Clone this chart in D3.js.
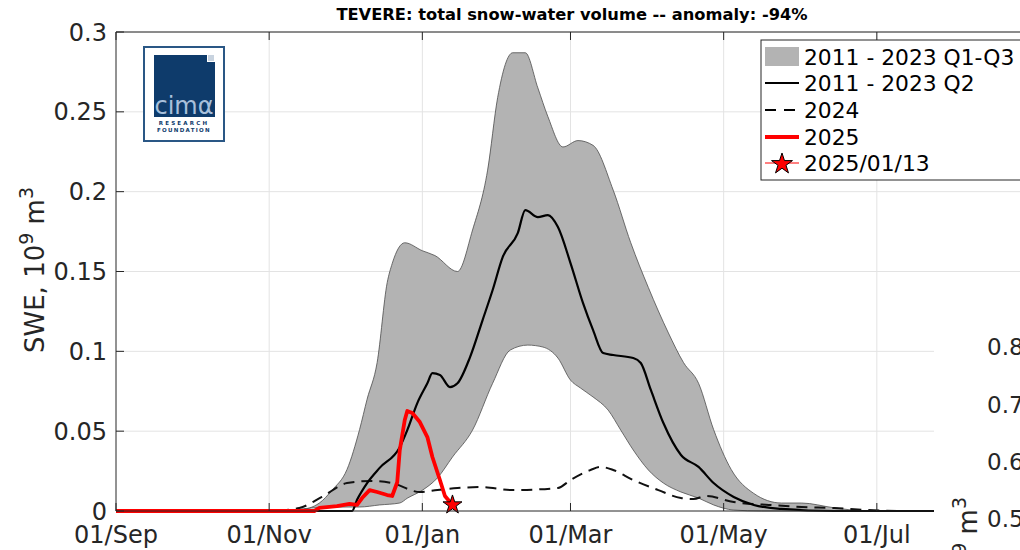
<!DOCTYPE html>
<html>
<head>
<meta charset="utf-8">
<script src="https://cdn.jsdelivr.net/npm/d3@7"></script>
<style>
  body { margin: 0; background: #fff; }
  text { font-family: "DejaVu Sans", sans-serif; fill: #262626; }
</style>
</head>
<body>
<div id="chart"></div>
<script>
// day offset from 01/Sep 2024, SWE in 10^9 m^3
const q3 = [[0,0],[60,0],[65,0],[73,0.0006],[81,0.005],[86.5,0.013],[92,0.026],[97,0.051],[100,0.07],[104,0.093],[108,0.143],[110.5,0.155],[115,0.168],[122,0.163],[127,0.160],[136,0.150],[142,0.176],[148,0.2135],[152,0.259],[158,0.287],[163,0.287],[168,0.265],[172,0.247],[178,0.228],[184,0.232],[190,0.229],[198,0.201],[205,0.168],[212,0.140],[220,0.1115],[226,0.093],[232,0.080],[238,0.051],[245,0.026],[254,0.011],[265,0.005],[273,0.005],[286,0.002],[299,0],[310,0],[364,0]];
const q1 = [[0,0],[60,0],[65,0],[78.5,0.0019],[92,0.0025],[97,0.0025],[105,0.0038],[113,0.005],[116,0.008],[122,0.013],[128,0.0207],[134,0.0338],[142,0.0507],[150,0.080],[157,0.1008],[164,0.1039],[170,0.1027],[176,0.0958],[181,0.082],[185,0.077],[190,0.0714],[196,0.0632],[201,0.0507],[206,0.0382],[212,0.0257],[218,0.0175],[225,0.0119],[232,0.0081],[238,0.0038],[246,0.0006],[257,0],[270,0],[364,0]];
const q2 = [[0,0],[90,0],[94.5,0],[96,0.007],[100,0.0175],[105,0.027],[113,0.040],[116,0.0507],[120,0.0676],[124,0.080],[126.5,0.0864],[129,0.0852],[133,0.0776],[136,0.080],[141,0.0964],[146,0.1196],[150,0.1384],[154,0.159],[160,0.174],[163,0.1885],[168,0.1841],[172,0.1853],[176,0.1778],[181,0.1553],[186,0.1302],[190,0.1133],[194,0.0989],[198,0.0977],[206,0.0958],[209,0.0927],[213,0.0758],[218,0.0551],[225,0.0351],[232,0.0276],[238,0.0175],[246,0.0088],[254,0.0038],[265,0.0013],[286,0],[300,0],[364,0]];
const y2024 = [[0,0],[55,0],[61,0],[73,0.0019],[82.5,0.0088],[92,0.0175],[102.5,0.0188],[110,0.0175],[121,0.0119],[128,0.0131],[136,0.0144],[145,0.015],[158,0.0131],[176,0.0144],[181,0.0194],[189,0.0257],[193,0.0276],[198,0.0257],[206,0.0194],[216,0.0131],[225,0.0081],[230,0.0075],[235.5,0.0094],[246,0.0056],[260,0.0038],[273,0.0025],[286,0.0019],[299,0.0006],[313,0],[330,0],[364,0]];
const y2025 = [[0,0],[79,0],[81,0.0019],[88,0.003],[93,0.0044],[96,0.0038],[98.5,0.0081],[101,0.0131],[104,0.0119],[108,0.010],[110.5,0.0094],[112,0.018],[113.5,0.038],[115,0.057],[116.5,0.0626],[118.5,0.0614],[121,0.0557],[124,0.0463],[126.5,0.0338],[129,0.0194],[131.5,0.0094],[134,0.0038]];
const lastDay = [134, 0.0038];

const legendLabels = ["2011 - 2023 Q1-Q3", "2011 - 2023 Q2", "2024", "2025", "2025/01/13"];
const yTicks = [0, 0.05, 0.1, 0.15, 0.2, 0.25, 0.3];
const xTickMonths = ["2024-09-01", "2024-11-01", "2025-01-01", "2025-03-01", "2025-05-01", "2025-07-01"];
const rightTicks = ["0.8", "0.7", "0.6", "0.5"];

const W = 1020, H = 550;
const plot = {left: 116, top: 32, bottom: 511, right: 934};
const start = new Date(2024, 8, 1);
const toDate = d => new Date(2024, 8, 1 + d);

const svg = d3.select("#chart").append("svg")
    .attr("width", W).attr("height", H);

const x = d3.scaleTime()
    .domain([start, new Date(2025, 7, 31)])
    .range([plot.left, 1030]);
const y = d3.scaleLinear().domain([0, 0.3]).range([plot.bottom, plot.top]);

const xTicks = xTickMonths.map(s => d3.timeParse("%Y-%m-%d")(s));

// grid
svg.append("g").selectAll("line").data(yTicks.slice(1)).enter().append("line")
    .attr("x1", plot.left).attr("x2", W)
    .attr("y1", d => y(d)).attr("y2", d => y(d))
    .attr("stroke", "#e3e3e3").attr("stroke-width", 1);
svg.append("g").selectAll("line").data(xTicks.slice(1)).enter().append("line")
    .attr("x1", d => x(d)).attr("x2", d => x(d))
    .attr("y1", plot.top).attr("y2", plot.bottom)
    .attr("stroke", "#e3e3e3").attr("stroke-width", 1);

const line = d3.line()
    .x(d => x(toDate(d[0])))
    .y(d => y(d[1]))
    .curve(d3.curveMonotoneX);

// Q1-Q3 band
svg.append("path")
    .attr("d", line(q3) + line(q1.slice().reverse()).replace(/^M/, "L") + "Z")
    .attr("fill", "#b3b3b3")
    .attr("stroke", "#4d4d4d")
    .attr("stroke-width", 0.8);

svg.append("path")
    .attr("d", line(y2024))
    .attr("fill", "none").attr("stroke", "#111")
    .attr("stroke-width", 2).attr("stroke-dasharray", "11,7");

svg.append("path")
    .attr("d", line(q2))
    .attr("fill", "none").attr("stroke", "#000").attr("stroke-width", 2.2);

svg.append("path")
    .attr("d", d3.line().x(d => x(toDate(d[0]))).y(d => y(d[1]))(y2025))
    .attr("fill", "none").attr("stroke", "#ff0000")
    .attr("stroke-width", 3.8).attr("stroke-linejoin", "round");

const star = d3.symbol().type(d3.symbolStar).size(112);
svg.append("path")
    .attr("d", star())
    .attr("transform", `translate(${x(toDate(lastDay[0]))},${y(lastDay[1])})`)
    .attr("fill", "#ff0000").attr("stroke", "#000").attr("stroke-width", 1);

// axes box
svg.append("line").attr("x1", plot.left).attr("x2", plot.left)
    .attr("y1", plot.top).attr("y2", plot.bottom).attr("stroke", "#262626");
svg.append("line").attr("x1", plot.left).attr("x2", W)
    .attr("y1", plot.top).attr("y2", plot.top).attr("stroke", "#262626");
svg.append("line").attr("x1", plot.left).attr("x2", W)
    .attr("y1", plot.bottom).attr("y2", plot.bottom).attr("stroke", "#262626");

// ticks
svg.append("g").selectAll("line").data(yTicks).enter().append("line")
    .attr("x1", plot.left).attr("x2", plot.left + 8)
    .attr("y1", d => y(d)).attr("y2", d => y(d)).attr("stroke", "#262626");
xTicks.forEach(t => {
    svg.append("line").attr("x1", x(t)).attr("x2", x(t))
        .attr("y1", plot.top).attr("y2", plot.top + 8).attr("stroke", "#262626");
    svg.append("line").attr("x1", x(t)).attr("x2", x(t))
        .attr("y1", plot.bottom).attr("y2", plot.bottom - 8).attr("stroke", "#262626");
});

svg.append("g").selectAll("text").data(yTicks).enter().append("text")
    .attr("x", 107).attr("y", d => y(d))
    .attr("dy", "0.36em").attr("text-anchor", "end")
    .attr("font-size", 24)
    .text(d => d3.format("")(d));

const fmt = d3.timeFormat("%d/%b");
svg.append("g").selectAll("text").data(xTicks).enter().append("text")
    .attr("x", d => x(d)).attr("y", 543)
    .attr("text-anchor", "middle").attr("font-size", 24)
    .text(d => fmt(d));

// y label
function swe(t) {
    t.append("tspan").text("SWE, 10");
    t.append("tspan").attr("font-size", 19).attr("dy", -11).text("9");
    t.append("tspan").attr("dy", 11).text(" m");
    t.append("tspan").attr("font-size", 19).attr("dy", -11).text("3");
}
const yl = svg.append("text")
    .attr("transform", "translate(44,270) rotate(-90)")
    .attr("text-anchor", "middle").attr("font-size", 26);
swe(yl);

// title
svg.append("text")
    .attr("x", 572).attr("y", 20)
    .attr("text-anchor", "middle")
    .attr("font-size", 16.3).attr("font-weight", "bold")
    .style("fill", "#000")
    .text("TEVERE: total snow-water volume -- anomaly: -94%");

// legend
const lg = svg.append("g");
lg.append("rect").attr("x", 761).attr("y", 40).attr("width", 300).attr("height", 140)
    .attr("fill", "#fff").attr("stroke", "#262626");
const rowY = [57, 83, 110, 137, 163];
lg.append("rect").attr("x", 765).attr("y", 47).attr("width", 34).attr("height", 19).attr("fill", "#b3b3b3");
lg.append("line").attr("x1", 765).attr("x2", 799).attr("y1", rowY[1]).attr("y2", rowY[1])
    .attr("stroke", "#000").attr("stroke-width", 2);
lg.append("line").attr("x1", 765).attr("x2", 799).attr("y1", rowY[2]).attr("y2", rowY[2])
    .attr("stroke", "#000").attr("stroke-width", 2).attr("stroke-dasharray", "11,8");
lg.append("line").attr("x1", 765).attr("x2", 799).attr("y1", rowY[3]).attr("y2", rowY[3])
    .attr("stroke", "#ff0000").attr("stroke-width", 3.8);
lg.append("line").attr("x1", 765).attr("x2", 799).attr("y1", rowY[4]).attr("y2", rowY[4])
    .attr("stroke", "#ff0000").attr("stroke-width", 1);
lg.append("path").attr("d", d3.symbol().type(d3.symbolStar).size(136)())
    .attr("transform", `translate(782,${rowY[4] + 1})`)
    .attr("fill", "#ff0000").attr("stroke", "#000").attr("stroke-width", 1);
lg.selectAll("text.lab").data(legendLabels).enter().append("text")
    .attr("x", 804).attr("y", (d, i) => rowY[i])
    .attr("dy", "0.36em").attr("font-size", 21.8).style("fill", "#000")
    .text(d => d);

// logo
const logo = svg.append("g");
logo.append("rect").attr("x", 144).attr("y", 47).attr("width", 80).attr("height", 94)
    .attr("fill", "#fff").attr("stroke", "#2a5785").attr("stroke-width", 2);
logo.append("path")
    .attr("d", "M154,55 H207 V62 H215 V117 H154 Z")
    .attr("fill", "#0e3b6b");
logo.append("rect").attr("x", 208).attr("y", 55).attr("width", 6).attr("height", 6)
    .attr("fill", "#c8d3df");
logo.append("text").attr("x", 184).attr("y", 114).attr("text-anchor", "middle")
    .attr("font-family", "DejaVu Serif").attr("font-size", 24)
    .style("fill", "#a8c0db").text("cimα");
logo.append("text").attr("x", 184).attr("y", 125).attr("text-anchor", "middle")
    .attr("font-size", 5.5).attr("font-weight", "bold").attr("letter-spacing", 2.2)
    .style("fill", "#0e3b6b").text("RESEARCH");
logo.append("text").attr("x", 184).attr("y", 132).attr("text-anchor", "middle")
    .attr("font-size", 5.5).attr("font-weight", "bold").attr("letter-spacing", 1.3)
    .style("fill", "#0e3b6b").text("FOUNDATION");

// overlapping panel on the right edge
svg.append("rect").attr("x", plot.right).attr("y", 300).attr("width", W - plot.right).attr("height", H - 300)
    .attr("fill", "#fff");
svg.append("g").selectAll("text").data(rightTicks).enter().append("text")
    .attr("x", 987).attr("y", (d, i) => 347 + i * 57.3)
    .attr("dy", "0.36em").attr("font-size", 23)
    .text(d => d);
const rl = svg.append("text")
    .attr("transform", "translate(977,497) rotate(-90)")
    .attr("text-anchor", "end").attr("font-size", 26);
swe(rl);
</script>
</body>
</html>
